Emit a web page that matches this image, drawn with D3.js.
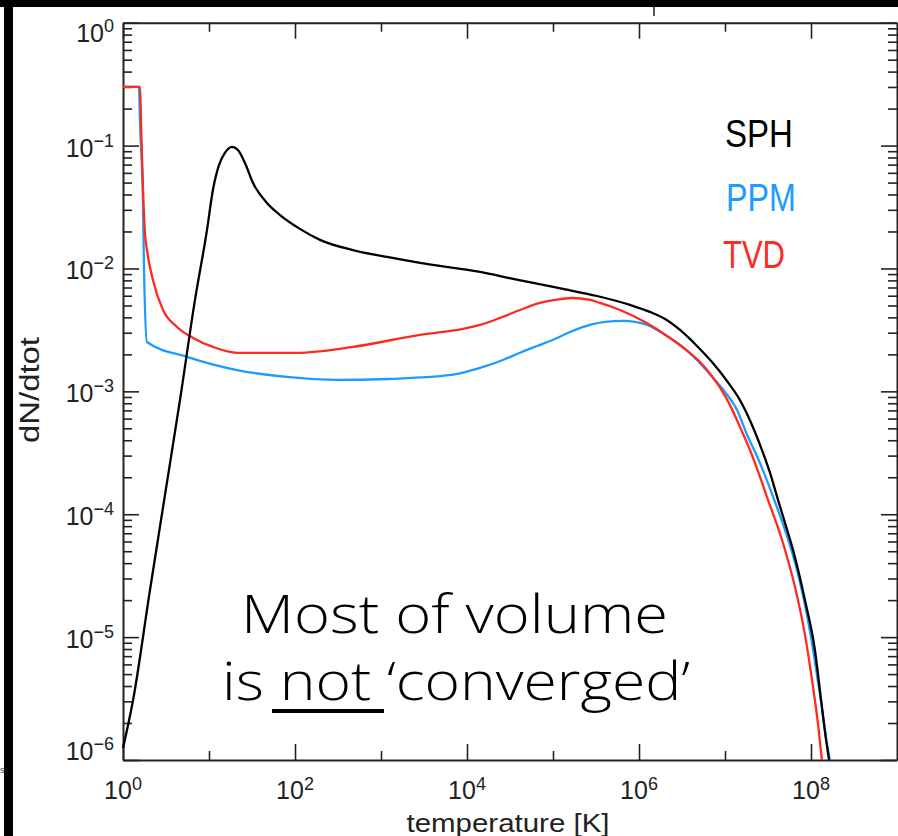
<!DOCTYPE html>
<html>
<head>
<meta charset="utf-8">
<script src="https://cdn.jsdelivr.net/npm/d3@7/dist/d3.min.js"></script>
<style>
  body { margin: 0; background: #fff; }
  svg { display: block; }
</style>
</head>
<body>
<svg id="chart"></svg>
<script>
// values: temperature [K] and dN/dtot
const sphT = [1, 1.31, 2.06, 3.08, 4.6, 6.87, 9.48, 11.1, 13.1, 15.3, 18.5, 21.7, 26.2, 32.5, 47.2, 67,
  114, 195, 472, 1175, 2840, 14200, 34300, 1.31e5, 3.25e5, 7.85e5, 1.34e6, 2.01e6, 3.0e6, 4.72e6,
  7.06e6, 1.05e7, 1.49e7, 2.06e7, 2.69e7, 3.34e7, 4.13e7, 5.12e7, 6.18e7, 8.51e7, 1.11e8, 1.31e8, 1.46e8, 1.62e8];
const sphN = [1.25e-6, 3.08e-6, 2.42e-5, 1.44e-4, 8.5e-4, 5.55e-3, 0.0206, 0.0435, 0.0696, 0.0871, 0.0975, 0.092, 0.0722, 0.0497, 0.0341, 0.0272,
  0.0210, 0.0171, 0.0141, 0.0124, 0.0111, 0.00937, 0.00822, 0.00681, 0.00597, 0.00505, 0.00443, 0.00388, 0.00316, 0.00234,
  0.00173, 0.00122, 8.51e-4, 5.33e-4, 3.33e-4, 2.17e-4, 1.31e-4, 8.0e-5, 5.12e-5, 2.0e-5, 7.86e-6, 3.08e-6, 1.66e-6, 1e-6];

const ppmT = [1, 1.53, 1.58, 1.71, 1.75, 1.9, 5.55, 21.2, 80.7, 308, 1175, 2840, 4850, 8300, 14200, 26200, 41300, 65200,
  1.05e5, 1.58e5, 2.69e5, 4.03e5, 6.52e5, 1.24e6, 2.01e6, 3.0e6, 4.72e6, 7.25e6, 1.0e7, 1.38e7, 1.85e7, 2.35e7, 3.0e7,
  3.81e7, 4.85e7, 6.01e7, 7.25e7, 8.51e7, 1.0e8, 1.14e8, 1.31e8, 1.49e8, 1.66e8];
const ppmN = [0.3, 0.3, 0.147, 0.0329, 0.0111, 0.00252, 0.00191, 0.00149, 0.00131, 0.00124, 0.00126, 0.0013, 0.00133, 0.0014, 0.00155, 0.0018, 0.00206, 0.00234,
  0.00267, 0.00304, 0.00347, 0.00367, 0.00374, 0.00347, 0.00288, 0.00239, 0.0018, 0.00129, 9.89e-4, 7.05e-4, 4.25e-4, 2.98e-4, 1.97e-4,
  1.26e-4, 7.88e-5, 4.93e-5, 3.03e-5, 1.83e-5, 1.0e-5, 5.61e-6, 2.96e-6, 1.54e-6, 1e-6];

const tvdT = [1, 1.58, 1.62, 1.8, 1.9, 2.23, 2.92, 4.24, 6.52, 11.1, 21.2, 105, 472, 2840, 8980, 14200, 24200, 41300, 70600,
  1.05e5, 1.66e5, 2.69e5, 3.52e5, 6.0e5, 1.17e6, 2.29e6, 3.43e6, 5.12e6, 6.7e6, 8.75e6, 1.14e7, 1.49e7, 1.95e7, 2.48e7,
  3.16e7, 4.03e7, 4.99e7, 6.01e7, 7.06e7, 8.3e7, 9.49e7, 1.08e8, 1.21e8, 1.34e8];
const tvdN = [0.3, 0.3, 0.153, 0.0194, 0.0141, 0.00805, 0.00459, 0.00334, 0.00272, 0.0023, 0.00206, 0.00206, 0.0023, 0.00288, 0.00322, 0.00347, 0.00396, 0.00459, 0.00524,
  0.00554, 0.00575, 0.00554, 0.00524, 0.00459, 0.00367, 0.00272, 0.00221, 0.00173, 0.00139, 0.00107, 7.76e-4, 5.14e-4, 3.33e-4, 2.13e-4,
  1.31e-4, 8.18e-5, 5.12e-5, 3.2e-5, 2.0e-5, 1.15e-5, 6.53e-6, 3.52e-6, 1.93e-6, 1e-6];

const xMajorTicks = [1e0, 1e2, 1e4, 1e6, 1e8];
const xMinorTicks = [1e1, 1e3, 1e5, 1e7];
const xTickExp = ["0", "2", "4", "6", "8"];
const yMajorTicks = [1e0, 1e-1, 1e-2, 1e-3, 1e-4, 1e-5, 1e-6];
const yTickExp = ["0", "\u22121", "\u22122", "\u22123", "\u22124", "\u22125", "\u22126"];

const seriesNames = ["SPH", "PPM", "TVD"];
const seriesColors = ["#000000", "#1e9bff", "#ff2a1f"];
const noteLines = ["Most of volume", "is not \u2018converged\u2019"];

const width = 898, height = 836;
const plotLeft = 123, plotRight = 897, plotTop = 22.7, plotBottom = 760;
const tickFont = "'Liberation Sans Narrow', 'Liberation Sans', Arial, sans-serif";

const svg = d3.select("#chart").attr("width", width).attr("height", height);

const x = d3.scaleLog().domain([1, 1e9]).range([plotLeft, plotRight]);
const y = d3.scaleLog().domain([1e-6, 1]).range([plotBottom, plotTop]);

// frame bits left over from the slide
svg.append("rect").attr("x", 0).attr("y", 0).attr("width", width).attr("height", 7).attr("fill", "#000");
svg.append("rect").attr("x", 4).attr("y", 7).attr("width", 9).attr("height", height - 7).attr("fill", "#000");
svg.append("line").attr("x1", 654).attr("x2", 654).attr("y1", 7).attr("y2", 16).attr("stroke", "#222").attr("stroke-width", 1.5);
svg.append("text").attr("x", 0).attr("y", 773).attr("font-family", tickFont).attr("font-size", 9).attr("fill", "#444").text("s");

const styleAxis = (g, keepDomain) => {
  g.selectAll(".tick line").attr("stroke", "#222").attr("stroke-width", 1.6);
  g.select(".domain").attr("stroke", keepDomain ? "#222" : "none").attr("stroke-width", 2);
};

const yMinor = y.ticks().filter(v => !yMajorTicks.some(m => Math.abs(Math.log10(v) - Math.log10(m)) < 1e-6));

// bottom + top
svg.append("g").attr("transform", `translate(0,${plotBottom})`)
  .call(d3.axisBottom(x).tickValues(xMajorTicks).tickSize(-16).tickSizeOuter(0).tickFormat(""))
  .call(g => styleAxis(g, true));
svg.append("g").attr("transform", `translate(0,${plotBottom})`)
  .call(d3.axisBottom(x).tickValues(xMinorTicks).tickSize(-9).tickSizeOuter(0).tickFormat(""))
  .call(g => styleAxis(g, false));
svg.append("g").attr("transform", `translate(0,${plotTop})`)
  .call(d3.axisTop(x).tickValues(xMajorTicks).tickSize(-16).tickSizeOuter(0).tickFormat(""))
  .call(g => styleAxis(g, true));
svg.append("g").attr("transform", `translate(0,${plotTop})`)
  .call(d3.axisTop(x).tickValues(xMinorTicks).tickSize(-9).tickSizeOuter(0).tickFormat(""))
  .call(g => styleAxis(g, false));

// left + right
svg.append("g").attr("transform", `translate(${plotLeft},0)`)
  .call(d3.axisLeft(y).tickValues(yMajorTicks).tickSize(-16).tickSizeOuter(0).tickFormat(""))
  .call(g => styleAxis(g, true));
svg.append("g").attr("transform", `translate(${plotLeft},0)`)
  .call(d3.axisLeft(y).tickValues(yMinor).tickSize(-9).tickSizeOuter(0).tickFormat(""))
  .call(g => styleAxis(g, false));
svg.append("g").attr("transform", `translate(${plotRight},0)`)
  .call(d3.axisRight(y).tickValues(yMajorTicks).tickSize(-16).tickSizeOuter(0).tickFormat(""))
  .call(g => styleAxis(g, true));
svg.append("g").attr("transform", `translate(${plotRight},0)`)
  .call(d3.axisRight(y).tickValues(yMinor).tickSize(-9).tickSizeOuter(0).tickFormat(""))
  .call(g => styleAxis(g, false));

// tick labels as 10 with superscript
const xl = svg.append("g").attr("font-family", tickFont).attr("fill", "#222");
xMajorTicks.forEach((v, i) => {
  const t = xl.append("text").attr("x", x(v)).attr("y", 799).attr("text-anchor", "middle").attr("font-size", 25);
  t.append("tspan").text("10");
  t.append("tspan").attr("font-size", 18).attr("dy", -9).text(xTickExp[i]);
});
const yl = svg.append("g").attr("font-family", tickFont).attr("fill", "#222");
yMajorTicks.forEach((v, i) => {
  const cy = Math.min(Math.max(y(v) + 2, plotTop + 10), plotBottom - 9);
  const t = yl.append("text").attr("x", 114).attr("y", cy + 9).attr("text-anchor", "end").attr("font-size", 25);
  t.append("tspan").text("10");
  t.append("tspan").attr("font-size", 18).attr("dy", -10).text(yTickExp[i]);
});

// axis titles
svg.append("text")
  .attr("x", 508).attr("y", 832)
  .attr("text-anchor", "middle")
  .attr("font-family", "'Liberation Sans', Arial, sans-serif")
  .attr("font-size", 25).attr("fill", "#222")
  .attr("textLength", 203).attr("lengthAdjust", "spacingAndGlyphs")
  .text("temperature [K]");
svg.append("text")
  .attr("transform", "translate(39,390) rotate(-90)")
  .attr("text-anchor", "middle")
  .attr("font-family", "'Liberation Sans', Arial, sans-serif")
  .attr("font-size", 27).attr("fill", "#222")
  .attr("textLength", 106).attr("lengthAdjust", "spacingAndGlyphs")
  .text("dN/dtot");

// curves
const line = d3.line()
  .x(d => x(d[0]))
  .y(d => y(d[1]))
  .curve(d3.curveMonotoneX);

const series = [
  { name: "PPM", data: d3.zip(ppmT, ppmN), color: seriesColors[1] },
  { name: "TVD", data: d3.zip(tvdT, tvdN), color: seriesColors[2] },
  { name: "SPH", data: d3.zip(sphT, sphN), color: seriesColors[0] }
];

svg.append("g").selectAll("path")
  .data(series)
  .enter()
  .append("path")
  .attr("d", d => line(d.data))
  .attr("fill", "none")
  .attr("stroke", d => d.color)
  .attr("stroke-width", 2.3)
  .attr("stroke-linejoin", "round");

// legend
const legendX = [725, 726, 723];
const legendY = [147, 211, 268];
const legendW = [68, 70, 62];
svg.append("g").selectAll("text")
  .data(seriesNames)
  .enter()
  .append("text")
  .attr("x", (d, i) => legendX[i])
  .attr("y", (d, i) => legendY[i])
  .attr("font-family", tickFont)
  .attr("font-size", 39)
  .attr("fill", (d, i) => seriesColors[i])
  .attr("textLength", (d, i) => legendW[i])
  .attr("lengthAdjust", "spacingAndGlyphs")
  .text(d => d);

// note
const noteFont = "'Open Sans', 'Noto Sans', sans-serif";
svg.append("text")
  .attr("x", 241).attr("y", 633)
  .attr("font-family", noteFont).attr("font-weight", 300)
  .attr("font-size", 54).attr("fill", "#000")
  .attr("textLength", 427).attr("lengthAdjust", "spacingAndGlyphs")
  .text(noteLines[0]);
svg.append("text")
  .attr("x", 222).attr("y", 700)
  .attr("font-family", noteFont).attr("font-weight", 300)
  .attr("font-size", 54).attr("fill", "#000")
  .attr("textLength", 468).attr("lengthAdjust", "spacingAndGlyphs")
  .text(noteLines[1]);
svg.append("rect").attr("x", 272).attr("y", 709).attr("width", 112).attr("height", 4).attr("fill", "#000");
</script>
</body>
</html>
